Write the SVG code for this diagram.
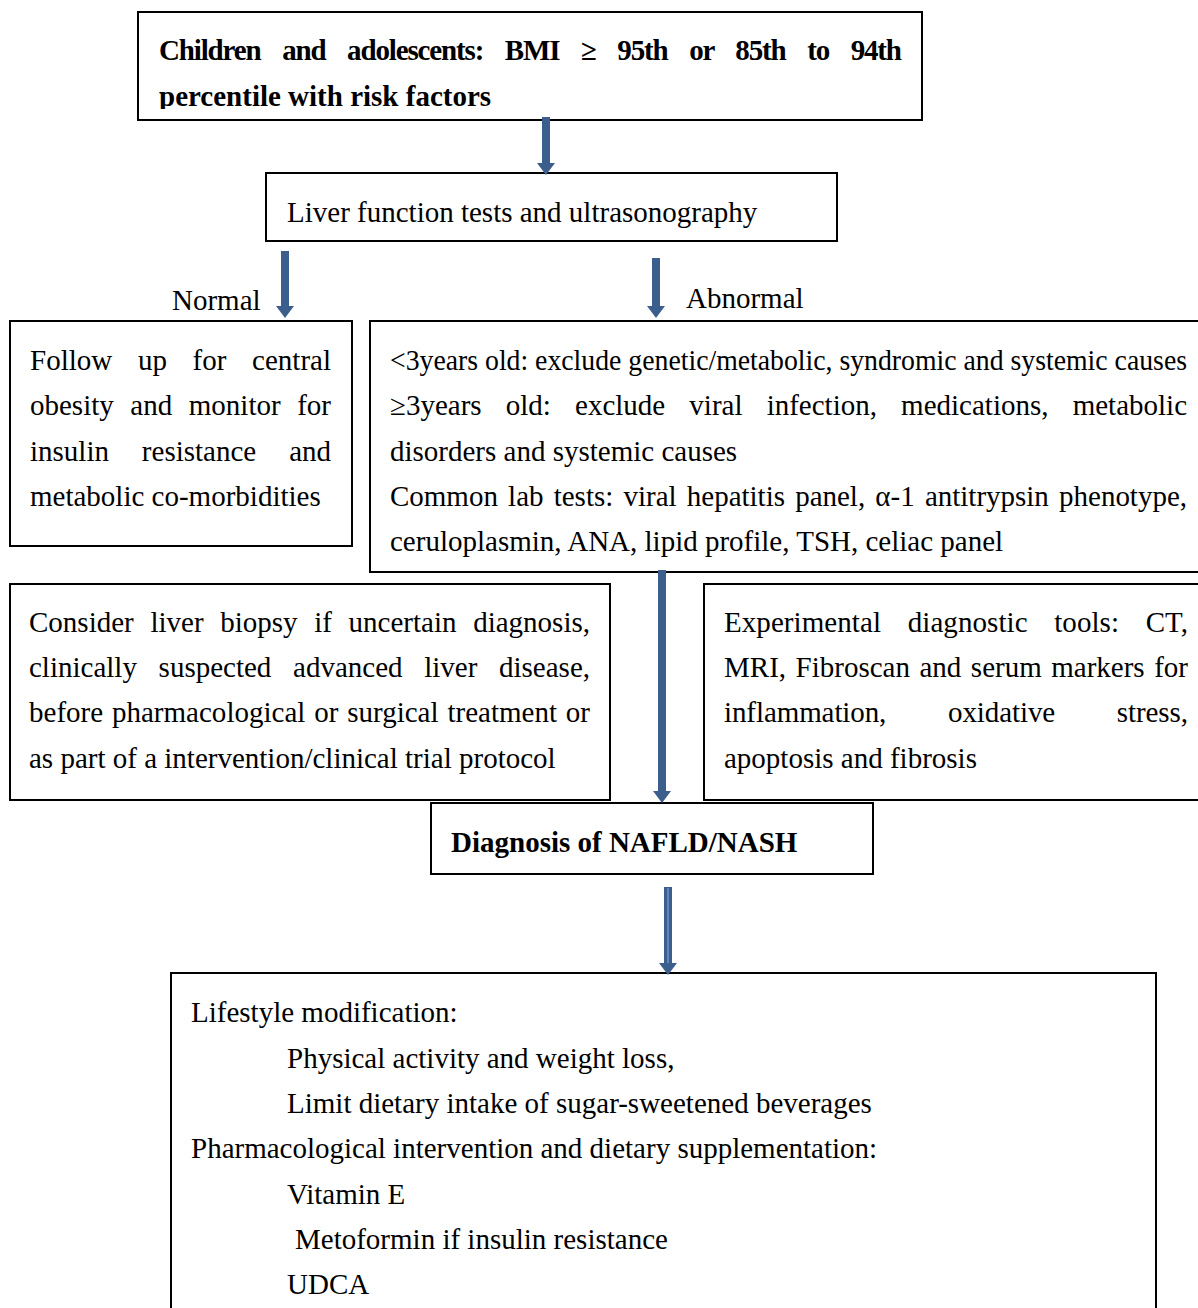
<svg xmlns="http://www.w3.org/2000/svg" width="1198" height="1308" viewBox="0 0 1198 1308">
<style>
.box{fill:#fff;stroke:#000;stroke-width:2}
.t{font-family:"Liberation Serif","Times New Roman",serif;font-size:29px;fill:#000}
.b{font-weight:bold}
.arr{stroke:#3B5E8C;stroke-width:8;fill:none}
</style>
<defs>
<marker id="ah" markerUnits="userSpaceOnUse" markerWidth="12" markerHeight="18" refX="0" refY="9" orient="auto" overflow="visible">
<path d="M0,0 L12,9 L0,18 z" fill="#3B5E8C"/>
</marker>
<clipPath id="c1"><rect x="138" y="12" width="784" height="97"/></clipPath>
</defs>
<rect width="1198" height="1308" fill="#fff"/>
<g id="n1">
<rect class="box" x="138" y="12" width="784" height="108"/>
<g clip-path="url(#c1)">
<text class="t b" x="159" y="60" word-spacing="15.5" textLength="743" lengthAdjust="spacing">Children and adolescents: BMI ≥ 95th or 85th to 94th</text>
<text class="t b" x="159" y="106">percentile with risk factors</text>
</g>
</g>
<g id="n2">
<rect class="box" x="266" y="173" width="571" height="68"/>
<text class="t" x="287" y="222">Liver function tests and ultrasonography</text>
</g>
<g id="n3">
<rect class="box" x="10" y="321" width="342" height="225"/>
<text class="t" x="30" y="370" word-spacing="18.45" textLength="301" lengthAdjust="spacing">Follow up for central</text>
<text class="t" x="30" y="415" word-spacing="9.3" textLength="301" lengthAdjust="spacing">obesity and monitor for</text>
<text class="t" x="30" y="461" word-spacing="25.65" textLength="301" lengthAdjust="spacing">insulin resistance and</text>
<text class="t" x="30" y="506">metabolic co-morbidities</text>
</g>
<g id="n4">
<path class="box" d="M1198,321 H370 V572 H1198"/>
<text class="t" x="390" y="370" font-size="27" textLength="797" lengthAdjust="spacingAndGlyphs">&lt;3years old: exclude genetic/metabolic, syndromic and systemic causes</text>
<text class="t" x="390" y="415" word-spacing="16.9" textLength="797" lengthAdjust="spacing">≥3years old: exclude viral infection, medications, metabolic</text>
<text class="t" x="390" y="461">disorders and systemic causes</text>
<text class="t" x="390" y="506" word-spacing="2.96" textLength="797" lengthAdjust="spacing">Common lab tests: viral hepatitis panel, α-1 antitrypsin phenotype,</text>
<text class="t" x="390" y="551">ceruloplasmin, ANA, lipid profile, TSH, celiac panel</text>
</g>
<g id="n5">
<rect class="box" x="10" y="584" width="600" height="216"/>
<text class="t" x="29" y="632" word-spacing="9.4" textLength="561" lengthAdjust="spacing">Consider liver biopsy if uncertain diagnosis,</text>
<text class="t" x="29" y="677" word-spacing="14.4" textLength="561" lengthAdjust="spacing">clinically suspected advanced liver disease,</text>
<text class="t" x="29" y="722" word-spacing="1.55" textLength="561" lengthAdjust="spacing">before pharmacological or surgical treatment or</text>
<text class="t" x="29" y="768">as part of a intervention/clinical trial protocol</text>
</g>
<g id="n6">
<path class="box" d="M1198,584 H704 V800 H1198"/>
<text class="t" x="724" y="632" word-spacing="19.3" textLength="464" lengthAdjust="spacing">Experimental diagnostic tools: CT,</text>
<text class="t" x="724" y="677" word-spacing="2.27" textLength="464" lengthAdjust="spacing">MRI, Fibroscan and serum markers for</text>
<text class="t" x="724" y="722" word-spacing="54.6" textLength="464" lengthAdjust="spacing">inflammation, oxidative stress,</text>
<text class="t" x="724" y="768">apoptosis and fibrosis</text>
</g>
<g id="n7">
<rect class="box" x="431" y="803" width="442" height="71"/>
<text class="t b" x="451" y="852">Diagnosis of NAFLD/NASH</text>
</g>
<g id="n8">
<path class="box" d="M171,1308 V973 H1156 V1308"/>
<text class="t" x="191" y="1022">Lifestyle modification:</text>
<text class="t" x="287" y="1068">Physical activity and weight loss,</text>
<text class="t" x="287" y="1113">Limit dietary intake of sugar-sweetened beverages</text>
<text class="t" x="191" y="1158">Pharmacological intervention and dietary supplementation:</text>
<text class="t" x="287" y="1204">Vitamin E</text>
<text class="t" x="295" y="1249">Metoformin if insulin resistance</text>
<text class="t" x="287" y="1294">UDCA</text>
</g>
<g id="connectors">
<line class="arr" x1="546" y1="117" x2="546" y2="163" marker-end="url(#ah)"/>
<line class="arr" x1="285" y1="251" x2="285" y2="306" marker-end="url(#ah)"/>
<line class="arr" x1="656" y1="258" x2="656" y2="306" marker-end="url(#ah)"/>
<line class="arr" x1="662" y1="570" x2="662" y2="791" marker-end="url(#ah)"/>
<line class="arr" x1="668" y1="887" x2="668" y2="963" marker-end="url(#ah)"/>
<line x1="668" y1="888" x2="668" y2="963" stroke="#5F86BA" stroke-width="2"/>
<text class="t" x="172" y="310">Normal</text>
<text class="t" x="686" y="308">Abnormal</text>
</g>
</svg>
